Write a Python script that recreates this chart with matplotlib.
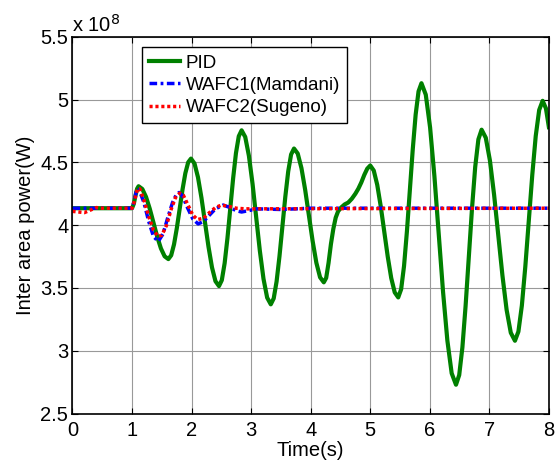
import matplotlib.pyplot as plt

plt.rcParams['font.family'] = ['Liberation Sans', 'DejaVu Sans']

# time (s) and inter area power (x 1e8 W)
t_pid = [0.0, 1.00, 1.03, 1.06, 1.085, 1.11,
         1.1725, 1.235, 1.2975, 1.36, 1.4225, 1.485, 1.5475,
         1.61, 1.6575, 1.705, 1.7525, 1.80, 1.8475, 1.895, 1.9425,
         1.99, 2.049, 2.1075, 2.166, 2.225, 2.284, 2.3425, 2.401,
         2.46, 2.5075, 2.555, 2.6025, 2.65, 2.6975, 2.745, 2.7925,
         2.84, 2.901, 2.9625, 3.024, 3.085, 3.146, 3.2075, 3.269,
         3.33, 3.379, 3.4275, 3.476, 3.525, 3.574, 3.6225, 3.671,
         3.72, 3.7825, 3.845, 3.9075, 3.97, 4.0325, 4.095, 4.1575,
         4.22, 4.26, 4.30, 4.34, 4.38, 4.42, 4.46, 4.51, 4.57, 4.63,
         4.69, 4.75, 4.80, 4.85, 4.90, 4.95, 5.00,
         5.059, 5.1175, 5.176, 5.235, 5.294, 5.3525, 5.411,
         5.47, 5.519, 5.5675, 5.616, 5.665, 5.714, 5.7625, 5.811,
         5.86, 5.9325, 6.005, 6.0775, 6.15, 6.2225, 6.295, 6.3675,
         6.44, 6.494, 6.5475, 6.601, 6.655, 6.709, 6.7625, 6.816,
         6.87, 6.94, 7.01, 7.08, 7.15, 7.22, 7.29, 7.36,
         7.43, 7.488, 7.546, 7.604, 7.663, 7.721, 7.779, 7.837,
         7.895, 7.95, 8.0]
p_pid = [4.135, 4.135, 4.17, 4.24, 4.29, 4.31,
         4.288, 4.225, 4.131, 4.02, 3.909, 3.815, 3.752,
         3.73, 3.760, 3.847, 3.977, 4.13, 4.283, 4.413, 4.500,
         4.53, 4.491, 4.381, 4.217, 4.022, 3.828, 3.664, 3.554,
         3.515, 3.562, 3.697, 3.898, 4.135, 4.372, 4.573, 4.708,
         4.755, 4.702, 4.552, 4.328, 4.062, 3.797, 3.573, 3.423,
         3.37, 3.417, 3.552, 3.753, 3.99, 4.227, 4.428, 4.563,
         4.61, 4.570, 4.454, 4.281, 4.078, 3.874, 3.701, 3.585,
         3.545, 3.58, 3.70, 3.85, 3.97, 4.06, 4.11, 4.14, 4.165, 4.18,
         4.21, 4.25, 4.29, 4.34, 4.40, 4.45, 4.475,
         4.435, 4.321, 4.151, 3.95, 3.749, 3.579, 3.465,
         3.425, 3.490, 3.675, 3.951, 4.278, 4.604, 4.880, 5.065,
         5.13, 5.039, 4.778, 4.390, 3.93, 3.470, 3.082, 2.821,
         2.73, 2.807, 3.027, 3.356, 3.745, 4.134, 4.463, 4.683,
         4.76, 4.696, 4.514, 4.241, 3.92, 3.599, 3.326, 3.144,
         3.08, 3.153, 3.360, 3.670, 4.035, 4.400, 4.710, 4.917,
         4.99, 4.93, 4.78]

t_wafc1 = [0.0, 1.00, 1.04, 1.08, 1.12, 1.20, 1.28, 1.36, 1.44, 1.52,
           1.60, 1.68, 1.74, 1.79, 1.85, 1.93, 2.02, 2.11, 2.20, 2.30,
           2.40, 2.53, 2.65, 2.75, 2.84, 2.95, 3.10, 3.50, 4.00, 8.0]
p_wafc1 = [4.135, 4.135, 4.20, 4.29, 4.28, 4.18, 4.03, 3.91, 3.87, 3.93,
           4.06, 4.18, 4.24, 4.26, 4.23, 4.14, 4.05, 4.01, 4.03, 4.08,
           4.13, 4.16, 4.14, 4.115, 4.105, 4.115, 4.13, 4.125, 4.135, 4.135]

t_wafc2 = [0.0, 0.2, 0.3, 0.4, 0.5, 1.00, 1.04, 1.09, 1.13, 1.20, 1.28,
           1.36, 1.44, 1.50, 1.58, 1.66, 1.73, 1.80, 1.86, 1.94, 2.02,
           2.10, 2.20, 2.30, 2.40, 2.50, 2.62, 2.75, 2.90, 8.0]
p_wafc2 = [4.11, 4.10, 4.12, 4.14, 4.135, 4.135, 4.19, 4.29, 4.29, 4.20, 4.07,
           3.96, 3.91, 3.92, 4.00, 4.13, 4.22, 4.255, 4.24, 4.16, 4.08,
           4.045, 4.055, 4.10, 4.14, 4.16, 4.15, 4.135, 4.13, 4.135]

fig = plt.figure(figsize=(5.55, 4.65), dpi=100)
ax = fig.add_axes([0.1306, 0.1105, 0.8584, 0.8105])

ax.plot(t_pid, p_pid, color=(0, 0.5, 0), lw=3.0, label='PID',
        solid_joinstyle='round')
ax.plot(t_wafc1, p_wafc1, color='blue', lw=2.5, ls='-.', label='WAFC1(Mamdani)',
        dashes=(2.2, 1.0, 0.8, 1.0))
ax.plot(t_wafc2, p_wafc2, color='red', lw=2.5, ls=':', label='WAFC2(Sugeno)',
        dashes=(0.9, 0.8))

ax.set_xlim(0, 8)
ax.set_ylim(2.5, 5.5)
ax.set_xticks(range(0, 9))
ax.set_yticks([2.5, 3, 3.5, 4, 4.5, 5, 5.5])
ax.set_yticklabels(['2.5', '3', '3.5', '4', '4.5', '5', '5.5'])
ax.grid(True, color='#999999', lw=0.8)
ax.tick_params(direction='in', top=True, right=True, labelsize=14.5,
               length=4, width=0.8)
ax.tick_params(axis='x', pad=5)
ax.tick_params(axis='y', pad=3)
for s in ax.spines.values():
    s.set_linewidth(1.2)

ax.set_xlabel('Time(s)', fontsize=14.5, labelpad=1)
ax.set_ylabel('Inter area power(W)', fontsize=14.5, labelpad=3.5)
ax.text(0.0, 1.0125, r'x 10$^{8}$', transform=ax.transAxes, fontsize=14.5,
        ha='left', va='baseline')

leg = ax.legend(loc='upper left', bbox_to_anchor=(0.146, 0.0, 0.430, 0.972),
                mode='expand', borderaxespad=0, fontsize=13.5, fancybox=False,
                edgecolor='black', framealpha=1, handlelength=1.65,
                handletextpad=0.3, labelspacing=0.28, borderpad=0.38)
leg.get_frame().set_linewidth(1.0)

fig.savefig('out.png', dpi=100)
